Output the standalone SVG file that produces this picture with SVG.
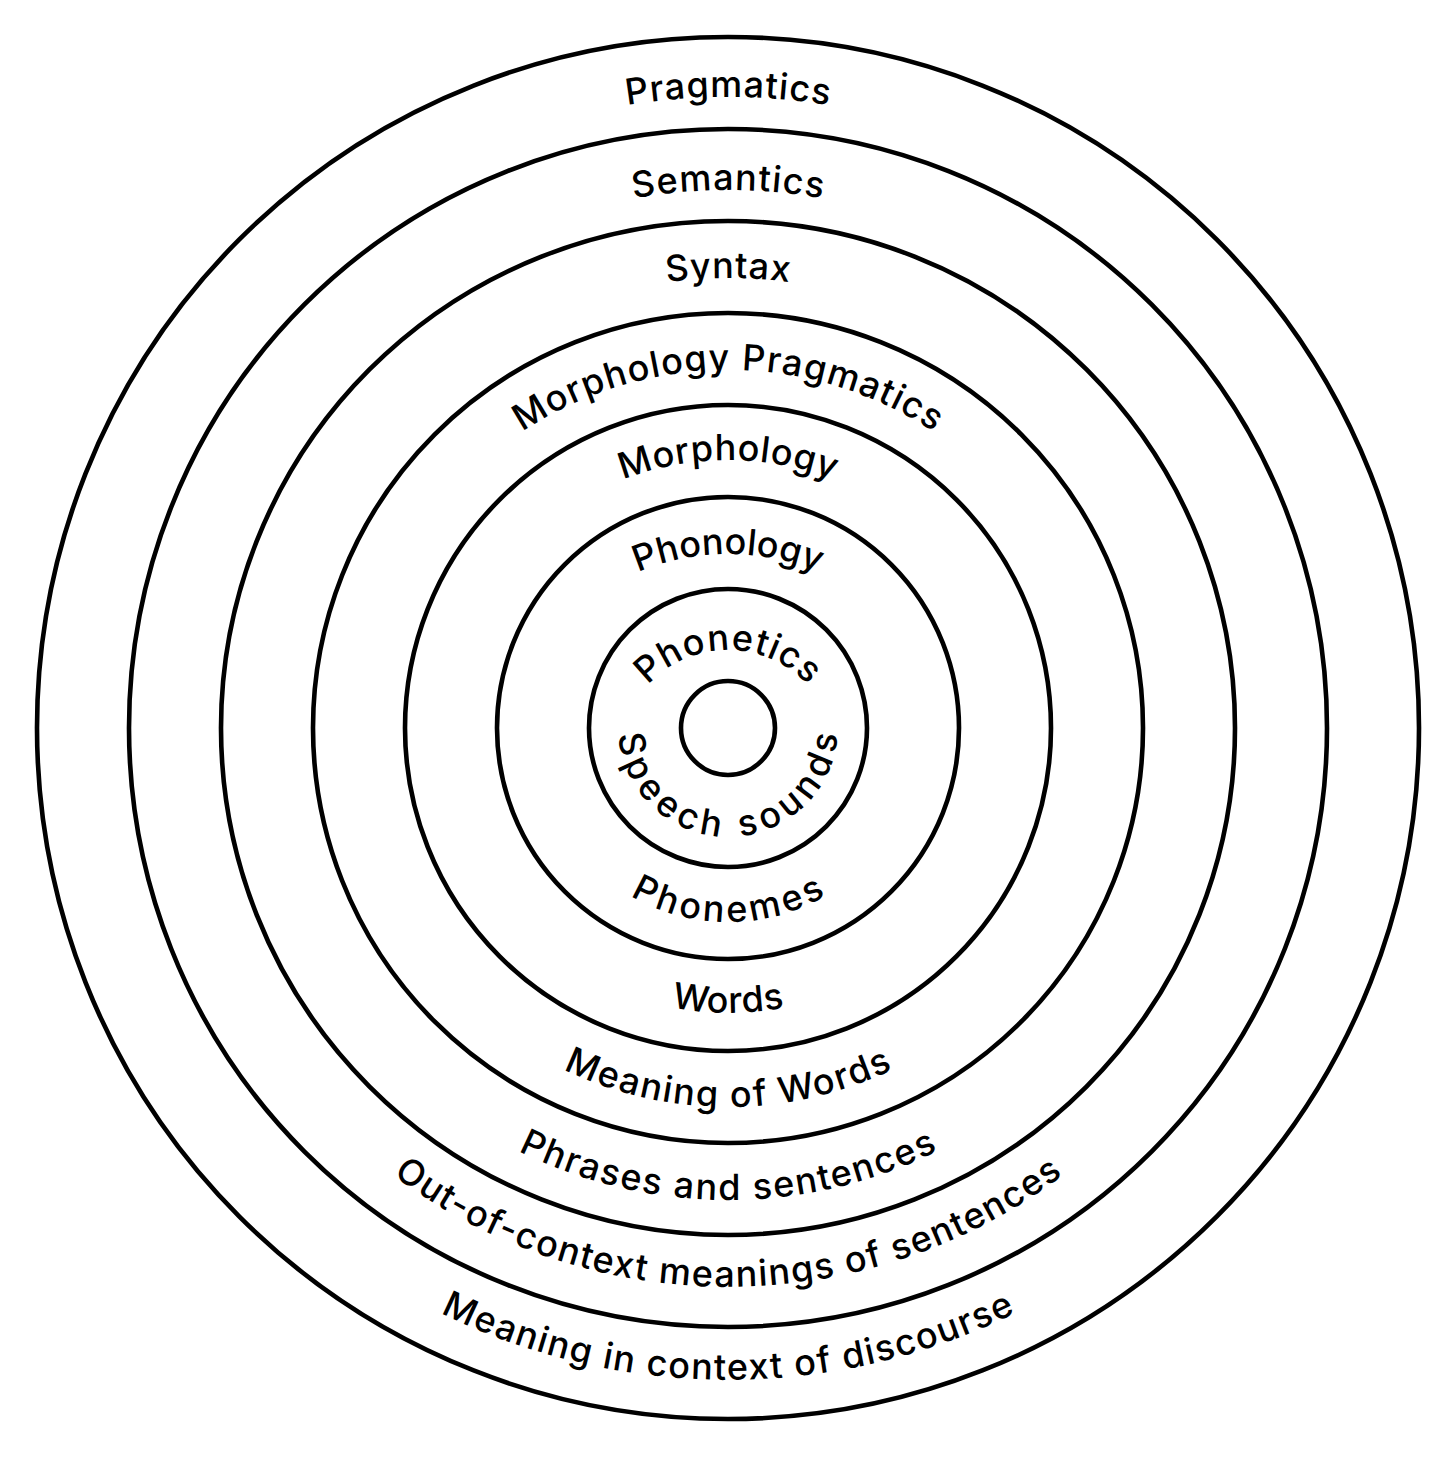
<svg xmlns="http://www.w3.org/2000/svg" xmlns:xlink="http://www.w3.org/1999/xlink" width="1456" height="1457" viewBox="0 0 1456 1457">
<style>
.ring{fill:none;stroke:#000;stroke-width:4.6}
.lbl{font-family:"Inter","Lato","Liberation Sans",sans-serif;font-size:36px;font-weight:550;fill:#000;font-variant-ligatures:none;font-feature-settings:"liga" 0,"calt" 0}
</style>
<defs>
<path id="pPragmatics" d="M97,728 A631,631 0 0 1 1359,728"/>
<path id="pSemantics" d="M190,728 A538,538 0 0 1 1266,728"/>
<path id="pSyntax" d="M278,728 A450,450 0 0 1 1178,728"/>
<path id="pMorphPrag" d="M355,743 A373,373 0 0 1 1101,743"/>
<path id="pMorphology" d="M438,750 A290,290 0 0 1 1018,750"/>
<path id="pPhonology" d="M498,784 A230,230 0 0 1 958,784"/>
<path id="pPhonetics" d="M619,759 A109,109 0 0 1 837,759"/>
<path id="pSpeech" d="M618,727 A110,110 0 0 0 838,727"/>
<path id="pPhonemes" d="M532,726 A196,196 0 0 0 924,726"/>
<path id="pWords" d="M443,728 A285,285 0 0 0 1013,728"/>
<path id="pMeanWords" d="M349,728 A379,379 0 0 0 1107,728"/>
<path id="pPhrases" d="M256,728 A472,472 0 0 0 1200,728"/>
<path id="pOutCtx" d="M169,728 A559,559 0 0 0 1287,728"/>
<path id="pInCtx" d="M76,728 A652,652 0 0 0 1380,728"/>
</defs>
<rect x="0" y="0" width="1456" height="1457" fill="#fff"/>
<g id="connectors"></g>
<g id="ring-pragmatics">
<circle class="ring" cx="728" cy="728" r="691"/>
<text class="lbl" text-anchor="middle"><textPath xlink:href="#pPragmatics" href="#pPragmatics" startOffset="50%" textLength="203" lengthAdjust="spacing">Pragmatics</textPath></text>
<text class="lbl" text-anchor="middle"><textPath xlink:href="#pInCtx" href="#pInCtx" startOffset="50%" textLength="596" lengthAdjust="spacing">Meaning in context of discourse</textPath></text>
</g>
<g id="ring-semantics">
<circle class="ring" cx="728" cy="728" r="599"/>
<text class="lbl" text-anchor="middle"><textPath xlink:href="#pSemantics" href="#pSemantics" startOffset="50%" textLength="190" lengthAdjust="spacing">Semantics</textPath></text>
<text class="lbl" text-anchor="middle"><textPath xlink:href="#pOutCtx" href="#pOutCtx" startOffset="50%" textLength="719" lengthAdjust="spacing">Out-of-context meanings of sentences</textPath></text>
</g>
<g id="ring-syntax">
<circle class="ring" cx="728" cy="728" r="507"/>
<text class="lbl" text-anchor="middle"><textPath xlink:href="#pSyntax" href="#pSyntax" startOffset="50%" textLength="123" lengthAdjust="spacing">Syntax</textPath></text>
<text class="lbl" text-anchor="middle"><textPath xlink:href="#pPhrases" href="#pPhrases" startOffset="50%" textLength="435" lengthAdjust="spacing">Phrases and sentences</textPath></text>
</g>
<g id="ring-morphology-pragmatics">
<circle class="ring" cx="728" cy="728" r="415"/>
<text class="lbl" text-anchor="middle"><textPath xlink:href="#pMorphPrag" href="#pMorphPrag" startOffset="50%" textLength="436" lengthAdjust="spacing">Morphology Pragmatics</textPath></text>
<text class="lbl" text-anchor="middle"><textPath xlink:href="#pMeanWords" href="#pMeanWords" startOffset="50%" textLength="341" lengthAdjust="spacing">Meaning of Words</textPath></text>
</g>
<g id="ring-morphology">
<circle class="ring" cx="728" cy="728" r="323"/>
<text class="lbl" text-anchor="middle"><textPath xlink:href="#pMorphology" href="#pMorphology" startOffset="50%" textLength="215" lengthAdjust="spacing">Morphology</textPath></text>
<text class="lbl" text-anchor="middle"><textPath xlink:href="#pWords" href="#pWords" startOffset="50%" textLength="114" lengthAdjust="spacing">Words</textPath></text>
</g>
<g id="ring-phonology">
<circle class="ring" cx="728" cy="728" r="231"/>
<text class="lbl" text-anchor="middle"><textPath xlink:href="#pPhonology" href="#pPhonology" startOffset="50%" textLength="185" lengthAdjust="spacing">Phonology</textPath></text>
<text class="lbl" text-anchor="middle"><textPath xlink:href="#pPhonemes" href="#pPhonemes" startOffset="50%" textLength="205" lengthAdjust="spacing">Phonemes</textPath></text>
</g>
<g id="ring-phonetics">
<circle class="ring" cx="728" cy="728" r="139"/>
<text class="lbl" text-anchor="middle"><textPath xlink:href="#pPhonetics" href="#pPhonetics" startOffset="50%" textLength="180" lengthAdjust="spacing">Phonetics</textPath></text>
<text class="lbl" text-anchor="middle"><textPath xlink:href="#pSpeech" href="#pSpeech" startOffset="50%" textLength="330" lengthAdjust="spacing">Speech sounds</textPath></text>
</g>
<g id="core">
<circle class="ring" cx="728" cy="728" r="47"/>
</g>
</svg>
